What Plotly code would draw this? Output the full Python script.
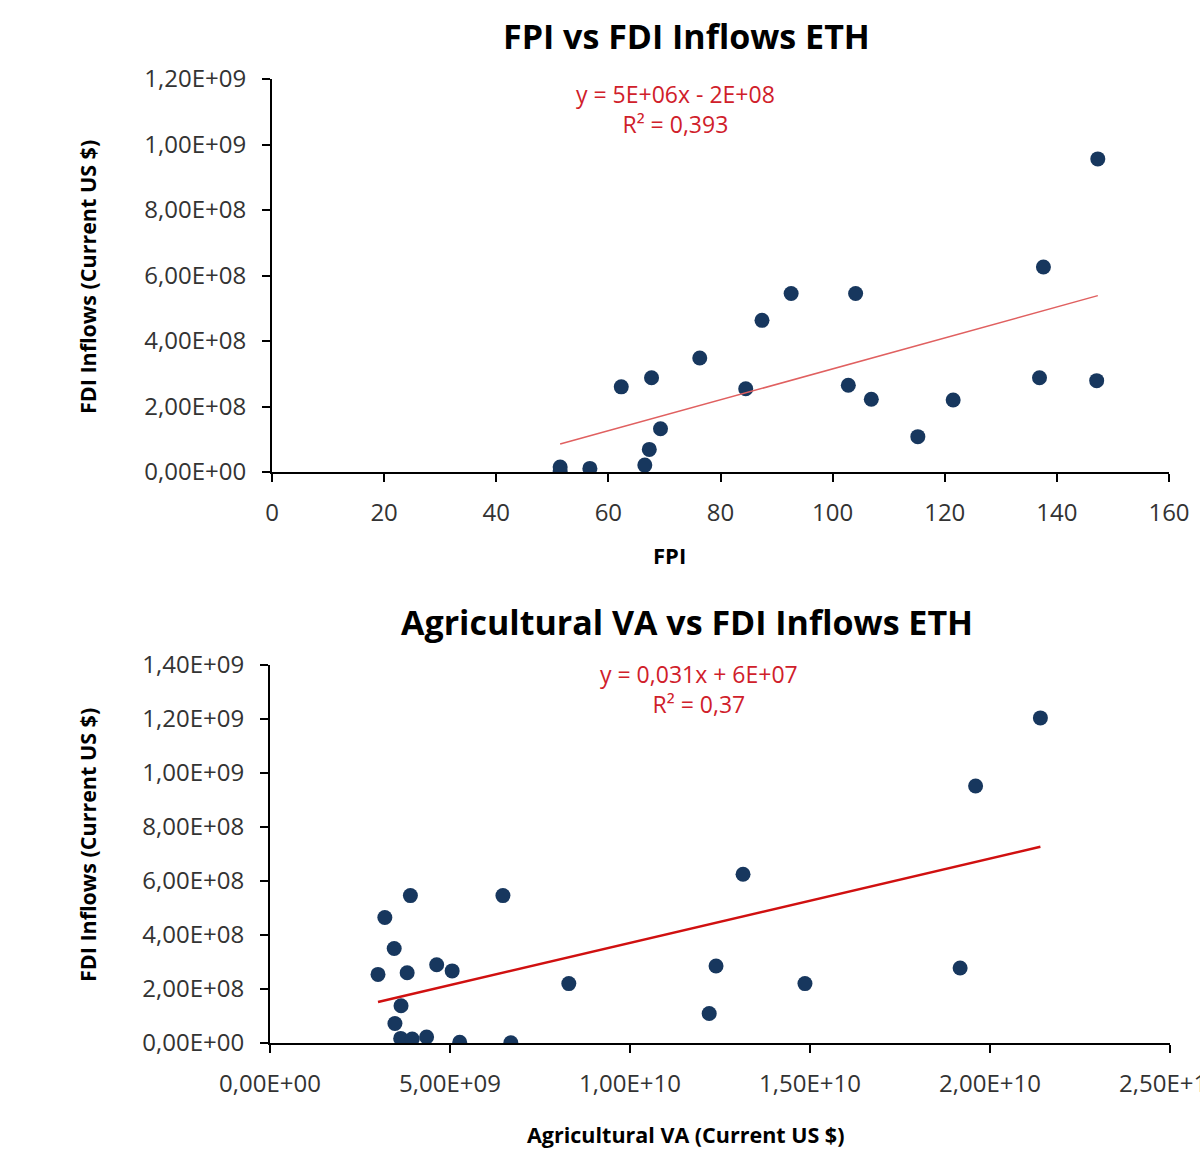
import numpy as np
import plotly.graph_objects as go

# ---- Top chart data: FPI vs FDI inflows ----
fpi = [51.4, 51.4, 56.7, 66.5, 67.3, 69.3, 62.3, 67.7, 76.3, 84.5, 87.4,
       92.6, 104.1, 102.8, 106.9, 115.2, 121.5, 136.9, 137.6, 147.1, 147.3]
fdi_top = [1.5e7, 3e6, 1.1e7, 2.1e7, 6.9e7, 1.32e8, 2.6e8, 2.88e8, 3.48e8, 2.54e8, 4.63e8,
           5.45e8, 5.45e8, 2.65e8, 2.22e8, 1.08e8, 2.2e8, 2.88e8, 6.26e8, 2.79e8, 9.56e8]

# ---- Bottom chart data: Agricultural VA vs FDI inflows ----
agva = [3.0e9, 3.19e9, 3.45e9, 3.47e9, 3.64e9, 3.63e9, 3.81e9, 3.90e9, 3.95e9, 4.35e9,
        4.63e9, 5.06e9, 5.27e9, 6.47e9, 6.69e9, 8.30e9, 1.22e10, 1.239e10, 1.314e10,
        1.486e10, 1.917e10, 1.96e10, 2.14e10]
fdi_bot = [2.54e8, 4.65e8, 3.5e8, 7.2e7, 1.38e8, 1.7e7, 2.6e8, 5.46e8, 1.5e7, 2.2e7,
           2.9e8, 2.67e8, 2.5e6, 5.46e8, 1e6, 2.2e8, 1.09e8, 2.85e8, 6.25e8,
           2.2e8, 2.78e8, 9.52e8, 1.204e9]

# ---- Tick labels ----
top_xticks = [0, 20, 40, 60, 80, 100, 120, 140, 160]
top_xlabels = ["0", "20", "40", "60", "80", "100", "120", "140", "160"]
top_yticks = [0, 2e8, 4e8, 6e8, 8e8, 1e9, 1.2e9]
top_ylabels = ["0,00E+00", "2,00E+08", "4,00E+08", "6,00E+08", "8,00E+08", "1,00E+09", "1,20E+09"]
bot_xticks = [0, 5e9, 1e10, 1.5e10, 2e10, 2.5e10]
bot_xlabels = ["0,00E+00", "5,00E+09", "1,00E+10", "1,50E+10", "2,00E+10", "2,50E+10"]
bot_yticks = [0, 2e8, 4e8, 6e8, 8e8, 1e9, 1.2e9, 1.4e9]
bot_ylabels = ["0,00E+00", "2,00E+08", "4,00E+08", "6,00E+08", "8,00E+08", "1,00E+09", "1,20E+09", "1,40E+09"]

MARK = "#17375E"
FONT = "Open Sans"
TXT = "#333333"

W, H = 1200, 1150
def px(x): return x / W
def py(y): return 1 - y / H

fig = go.Figure()

fig.add_trace(go.Scatter(x=fpi, y=fdi_top, mode="markers", xaxis="x", yaxis="y",
                         marker=dict(color=MARK, size=15, line=dict(width=0)), showlegend=False))
m1, b1 = np.polyfit(fpi, fdi_top, 1)
xs1 = np.array([min(fpi), max(fpi)])
fig.add_trace(go.Scatter(x=xs1, y=m1 * xs1 + b1, mode="lines", xaxis="x", yaxis="y",
                         line=dict(color="#E06060", width=1.5), showlegend=False))

fig.add_trace(go.Scatter(x=agva, y=fdi_bot, mode="markers", xaxis="x2", yaxis="y2",
                         marker=dict(color=MARK, size=15, line=dict(width=0)), showlegend=False))
m2, b2 = np.polyfit(agva, fdi_bot, 1)
xs2 = np.array([min(agva), max(agva)])
fig.add_trace(go.Scatter(x=xs2, y=m2 * xs2 + b2, mode="lines", xaxis="x2", yaxis="y2",
                         line=dict(color="#D01010", width=2.5), showlegend=False))

axis_common = dict(showgrid=False, zeroline=False, showline=True, linecolor="black", linewidth=2,
                   ticks="outside", ticklen=8, tickwidth=1.5, tickcolor="black",
                   tickfont=dict(family=FONT, size=24, color=TXT), tickmode="array",
                   automargin=False, ticklabeloverflow="allow")
xstand = dict(ticklabelstandoff=10)
ystand = dict(ticklabelstandoff=11)

fig.update_layout(
    width=W, height=H,
    margin=dict(l=0, r=0, t=0, b=0, autoexpand=False),
    paper_bgcolor="white", plot_bgcolor="white",
    xaxis=dict(domain=[px(272), px(1169)], range=[0, 160], anchor="y",
               tickvals=top_xticks, ticktext=top_xlabels, **axis_common, **xstand),
    yaxis=dict(domain=[py(472), py(79)], range=[0, 1.2e9], anchor="x",
               tickvals=top_yticks, ticktext=top_ylabels, **axis_common, **ystand),
    xaxis2=dict(domain=[px(270), px(1170)], range=[0, 2.5e10], anchor="y2",
                tickvals=bot_xticks, ticktext=bot_xlabels, **axis_common, **xstand),
    yaxis2=dict(domain=[py(1043), py(665)], range=[0, 1.4e9], anchor="x2",
                tickvals=bot_yticks, ticktext=bot_ylabels, **axis_common, **ystand),
)

def ann(text, x, y, size, bold=False, color="black", angle=0):
    fig.add_annotation(text=f"<b>{text}</b>" if bold else text, x=px(x), y=py(y),
                       xref="paper", yref="paper", showarrow=False, textangle=angle,
                       xanchor="center", yanchor="middle",
                       font=dict(family=FONT, size=size, color=color))

ann("FPI vs FDI Inflows ETH", 686, 36, 34, bold=True)
ann("Agricultural VA vs FDI Inflows ETH", 687, 622, 34, bold=True)
ann("FDI Inflows (Current US $)", 87, 277, 21.5, bold=True, angle=-90)
ann("FDI Inflows (Current US $)", 87, 845, 21.5, bold=True, angle=-90)
ann("FPI", 669, 555, 22, bold=True)
ann("Agricultural VA (Current US $)", 685, 1134, 21.5, bold=True)
RED = "#D0202A"
ann("y = 5E+06x - 2E+08<br>R² = 0,393", 675, 108.5, 23, color=RED)
ann("y = 0,031x + 6E+07<br>R² = 0,37", 699, 688.5, 23, color=RED)

fig.write_html("out.html", config={"displayModeBar": False},
               post_script="document.body.style.margin='0';document.body.style.overflow='hidden';")
